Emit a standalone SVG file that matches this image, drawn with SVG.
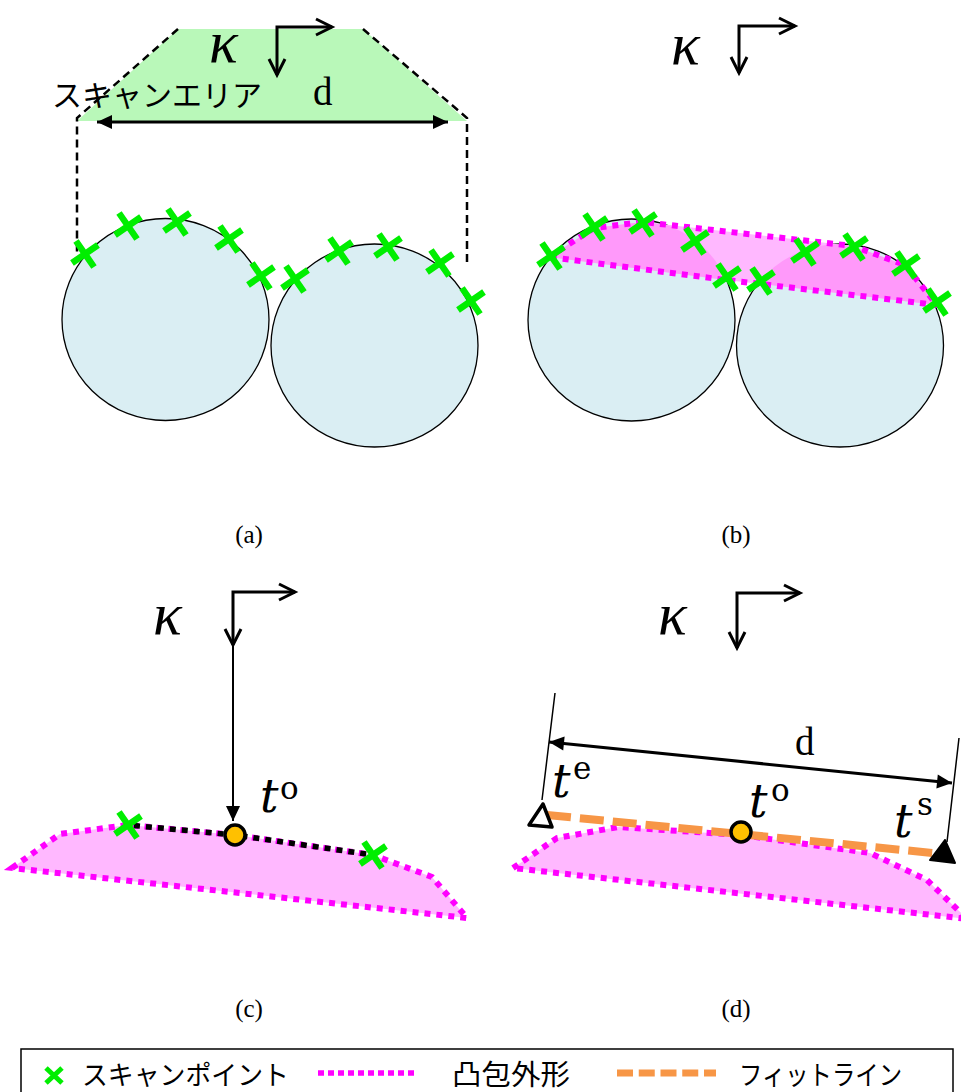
<svg xmlns="http://www.w3.org/2000/svg" width="961" height="1092" viewBox="0 0 961 1092">
<style>
.circ{fill:#daeef3;stroke:#000;stroke-width:1.3}
.hullfill{fill:#ffb8ff;stroke:none}
.hull{fill:none;stroke:#ff00ff;stroke-width:6;stroke-dasharray:6 6}
.xm{stroke:#00ee00;stroke-width:6.5;fill:none}
.ax{stroke:#000;stroke-width:3;fill:none;marker-start:url(#chev);marker-end:url(#chev)}
.dim{stroke:#000;stroke-width:3;fill:none;marker-start:url(#tri);marker-end:url(#tri)}
.kap{font-family:"Liberation Serif",serif;font-style:italic;font-size:60px;fill:#000}
.tt{font-family:"DejaVu Serif",serif;font-style:italic;font-size:46px;fill:#000}
.sup{font-family:"DejaVu Serif",serif;font-size:31px;fill:#000}
.dd{font-family:"Liberation Serif",serif;font-size:39px;fill:#000}
.cap{font-family:"Liberation Serif",serif;font-size:25px;fill:#000;text-anchor:middle}
.jp{font-family:"Noto Sans CJK JP",sans-serif;fill:#000}
.dot{fill:#ffc000;stroke:#000;stroke-width:3.5}
</style>
<defs>
<marker id="chev" markerUnits="userSpaceOnUse" viewBox="-18 -10 20 20" refX="0" refY="0" markerWidth="20" markerHeight="20" orient="auto-start-reverse" overflow="visible">
<path d="M-16,-8 L0,0 L-16,8" fill="none" stroke="#000" stroke-width="3"/>
</marker>
<marker id="tri" markerUnits="userSpaceOnUse" viewBox="-16 -8 16 16" refX="0" refY="0" markerWidth="16" markerHeight="16" orient="auto-start-reverse" overflow="visible">
<path d="M-15,-7 L0,0 L-15,7 Z" fill="#000"/>
</marker>
<path id="x" d="M-9,-13 L9,13 M-13,9 L13,-9"/>
<clipPath id="hullB"><polygon points="549,257 594,228 643,222 853,246 905,265 937,305 761,284 726,280"/></clipPath>
</defs>

<g id="panel-a">
<polygon points="178,29 363,29 467,121 77,121" fill="#b9f8b9"/>
<path d="M178,29 L77,118 L77,252 M363,29 L467,118 L467,264" fill="none" stroke="#000" stroke-width="2.5" stroke-dasharray="8 5"/>
<text class="jp" x="52" y="106" font-size="30" textLength="210" lengthAdjust="spacingAndGlyphs">スキャンエリア</text>
<text class="kap" x="209" y="62">κ</text>
<path class="ax" d="M277,75 L277,27 L332,27"/>
<text class="dd" x="313" y="105">d</text>
<path class="dim" d="M97,122 L448,122"/>
<ellipse class="circ" cx="165.5" cy="319.5" rx="103.5" ry="101"/>
<ellipse class="circ" cx="374.5" cy="345.5" rx="103.5" ry="101.5"/>
<g class="xm">
<use href="#x" x="85" y="254"/><use href="#x" x="128" y="226"/><use href="#x" x="177" y="222"/><use href="#x" x="229" y="239"/><use href="#x" x="261" y="276"/>
<use href="#x" x="295" y="279"/><use href="#x" x="339" y="251"/><use href="#x" x="388" y="247"/><use href="#x" x="440" y="263"/><use href="#x" x="471" y="301"/>
</g>
<text class="cap" x="249" y="543">(a)</text>
</g>

<g id="panel-b">
<text class="kap" x="671" y="64">κ</text>
<path class="ax" d="M739,73 L739,26 L795,26"/>
<ellipse class="circ" cx="631.5" cy="320" rx="103.5" ry="101"/>
<ellipse class="circ" cx="840" cy="345.5" rx="103.5" ry="101.5"/>
<polygon class="hullfill" points="549,257 594,228 643,222 853,246 905,265 937,305 761,284 726,280"/>
<g clip-path="url(#hullB)">
<ellipse cx="631.5" cy="320" rx="103.5" ry="101" fill="#ff99fa"/>
<ellipse cx="840" cy="345.5" rx="103.5" ry="101.5" fill="#ff99fa"/>
</g>
<polygon class="hull" points="549,257 594,228 643,222 853,246 905,265 937,305 761,284 726,280"/>
<g class="xm">
<use href="#x" x="551" y="256"/><use href="#x" x="594" y="227"/><use href="#x" x="643" y="223"/><use href="#x" x="695" y="241"/><use href="#x" x="727" y="277"/>
<use href="#x" x="761" y="281"/><use href="#x" x="805" y="252"/><use href="#x" x="854" y="247"/><use href="#x" x="906" y="265"/><use href="#x" x="937" y="302"/>
</g>
<text class="cap" x="736" y="543">(b)</text>
</g>

<g id="panel-c">
<text class="kap" x="153" y="634">κ</text>
<path class="ax" d="M233,645 L233,592 L295,592"/>
<path d="M233,645 L233,821" stroke="#000" stroke-width="2" fill="none" marker-end="url(#tri)"/>
<polygon class="hullfill" points="12,868 60,834 128,825 235,835 373,855 432,877 467,918"/>
<polygon class="hull" points="12,868 60,834 128,825 235,835 373,855 432,877 467,918"/>
<path d="M128,825 L235,835 L373,855" fill="none" stroke="#000" stroke-width="5.5" stroke-dasharray="6 6" stroke-dashoffset="6"/>
<circle class="dot" cx="235" cy="835" r="10"/>
<g class="xm"><use href="#x" x="128" y="825"/><use href="#x" x="373" y="855"/></g>
<text class="tt" x="260" y="812">t</text><text class="sup" x="280" y="799">o</text>
<text class="cap" x="249" y="1017">(c)</text>
</g>

<g id="panel-d">
<text class="kap" x="658" y="634">κ</text>
<path class="ax" d="M737,648 L737,593 L800,593"/>
<path d="M555,693 L542,800 M959,738 L947,842" stroke="#000" stroke-width="1.5" fill="none"/>
<path class="dim" d="M549,742 L952,783"/>
<text class="dd" x="795" y="755">d</text>
<polygon class="hullfill" points="513,868 557,838 618,827 741,835 870,853 927,880 958,910 968,919"/>
<polygon class="hull" points="513,868 557,838 618,827 741,835 870,853 927,880 958,910 968,919"/>
<path d="M547,815 L933,853" stroke="#f79646" stroke-width="8" stroke-dasharray="24 9" fill="none"/>
<polygon points="543,804 529,825 552,827" fill="#fff" stroke="#000" stroke-width="3.5" stroke-linejoin="round"/>
<polygon points="945,840 930,860 955,863" fill="#000" stroke="#000" stroke-width="2" stroke-linejoin="round"/>
<circle class="dot" cx="741" cy="832" r="10"/>
<text class="tt" x="552" y="797">t</text><text class="sup" x="573" y="779">e</text>
<text class="tt" x="749" y="817">t</text><text class="sup" x="771" y="801">o</text>
<text class="tt" x="894" y="837">t</text><text class="sup" x="917" y="815">s</text>
<text class="cap" x="736" y="1017">(d)</text>
</g>

<g id="legend">
<rect x="21" y="1049" width="932" height="60" fill="#fff" stroke="#000" stroke-width="1.5"/>
<path d="M46,1068 L62,1083 M46,1083 L62,1068" stroke="#00ee00" stroke-width="5" fill="none"/>
<text class="jp" x="82" y="1085" font-size="27" textLength="207" lengthAdjust="spacingAndGlyphs">スキャンポイント</text>
<path d="M318,1073 L417,1073" stroke="#ff00ff" stroke-width="5.5" stroke-dasharray="6 4" fill="none"/>
<text class="jp" x="452" y="1085" font-size="28" textLength="118" lengthAdjust="spacingAndGlyphs">凸包外形</text>
<path d="M617,1073 L716,1073" stroke="#f79646" stroke-width="7" stroke-dasharray="16 5.75" fill="none"/>
<text class="jp" x="739" y="1085" font-size="27" textLength="163" lengthAdjust="spacingAndGlyphs">フィットライン</text>
</g>
</svg>
